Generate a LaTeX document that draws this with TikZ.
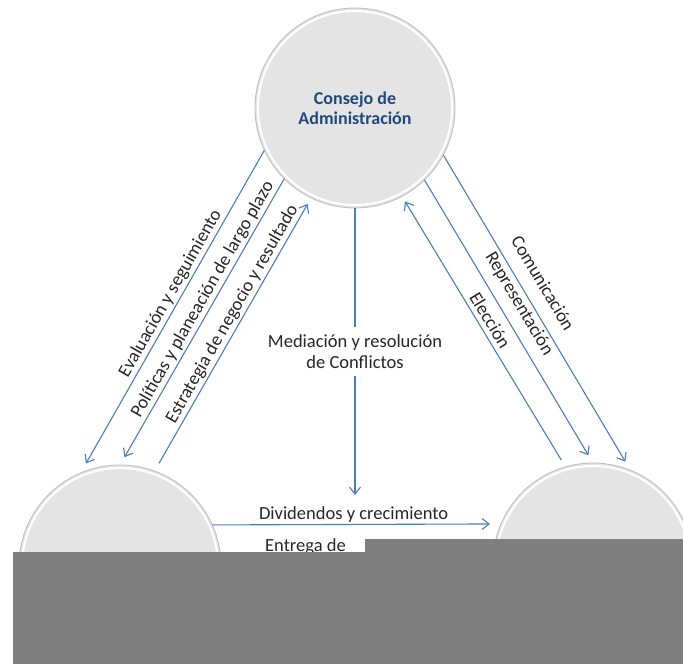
\documentclass[tikz,border=0pt]{standalone}
\usepackage{fontspec}
\setmainfont{Carlito}
\usetikzlibrary{arrows.meta}
\definecolor{linkblue}{HTML}{4A7EBB}
\definecolor{titleblue}{HTML}{1F497D}
\definecolor{disc}{HTML}{E4E4E4}
\definecolor{discrim}{HTML}{BDBDBD}
\definecolor{labeltext}{HTML}{262626}
\definecolor{coverbox}{HTML}{7F7F7F}
\begin{document}
\begin{tikzpicture}[x=1pt,y=-1pt,
  disc/.style={circle, inner sep=0pt, outer sep=0pt, fill=disc, draw=discrim, line width=0.8pt},
  link/.style={draw=linkblue, line width=1.1pt, arrows={-Straight Barb[length=7pt,width=11pt]}},
  plain/.style={draw=linkblue, line width=1.1pt},
  lbl/.style={font=\fontsize{18.5}{21}\selectfont, text=labeltext, inner sep=2pt},
  along/.style={lbl, sloped, above}
]
\useasboundingbox (0,0) rectangle (683,664);
\clip (0,0) rectangle (683,664);

% the three discs
\node[disc, minimum size=200pt, font=\bfseries\fontsize{18}{20.5}\selectfont, text=titleblue, align=center] (T) at (355,108) {Consejo de\\Administración};
\node[disc, minimum size=202pt] (L) at (120,566) {};
\node[disc, minimum size=200pt] (R) at (593,563) {};
\foreach \d/\r in {T/97, L/98, R/97}
  \draw[white, line width=2pt] (\d) circle[radius=\r pt];

% left side: board <-> first party
\draw[plain, arrows={Straight Barb[length=7pt,width=11pt]-}, shorten <=11pt] (L.113) -- (T.205)
  node[along, pos=0.54] {Evaluación y seguimiento};
\draw[plain, arrows={Straight Barb[length=7pt,width=11pt]-}, shorten <=9pt] (L.90) -- (T.225)
  node[along, pos=0.56] {Políticas y planeación de largo plazo};
\draw[link, shorten <=9pt, shorten >=7pt] (L.70) -- (T.244)
  node[along, pos=0.555] {Estrategia de negocio y resultado};

% right side: board <-> second party
\draw[link, shorten >=10pt] (T.332) -- (R.68)
  node[along, pos=0.44, outer sep=12pt] {Comunicación};
\draw[link, shorten >=9pt] (T.314) -- (R.90)
  node[along, pos=0.47, outer sep=8pt] {Representación};
\draw[plain, arrows={Straight Barb[length=7pt,width=11pt]-}, shorten <=6pt, shorten >=8pt] (T.298) -- (R.106)
  node[along, pos=0.48, outer sep=3pt] {Elección};

% centre: mediation
\coordinate (medTip) at (355,495);
\draw[link] (T.270) -- (medTip)
  node[lbl, pos=0.5, fill=white, align=center, inner sep=8pt] {Mediación y resolución\\de Conflictos};

% bottom: between the two parties
\draw[link, shorten >=11pt] (L.24.5) -- (R.157)
  node[lbl, above, midway, inner sep=1.5pt, xshift=-3pt] {Dividendos y crecimiento};
\node[lbl, anchor=base west, inner sep=0pt] (entrega) at (265,551) {Entrega de};

% cover panel
\fill[coverbox] (13,552) -- (365,552) -- (365,539) -- (683,539) -- (683,664) -- (13,664) -- cycle;
\end{tikzpicture}
\end{document}
